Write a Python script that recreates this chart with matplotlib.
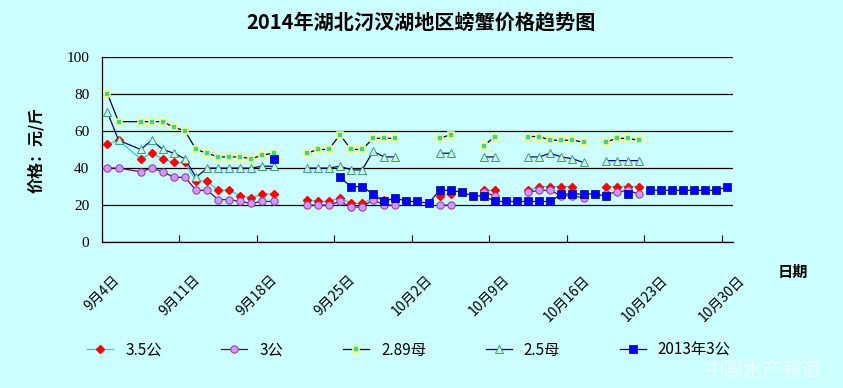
import numpy as np
import pandas as pd
import matplotlib
matplotlib.use("Agg")
import matplotlib.pyplot as plt

plt.rcParams['font.family'] = ['Noto Sans CJK SC', 'DejaVu Sans']

# one row per quoted day (9/6 has no row, so lines run across it);
# None = blank cell, which leaves a gap in the line
dates = pd.date_range("2014-09-04", "2014-10-30", freq="D").drop(pd.Timestamp("2014-09-06"))

p35gong = [53, 55, 45, 48, 45, 43, 43, 33, 33, 28, 28, 25, 24, 26, 26, None, None,
           23, 22, 22, 24, 21, 21, 24, 23, 23, None, None, None, 25, 26, None, None,
           28, 28, None, None, 28, 30, 30, 30, 30, None, None, 30, 30, 30, 30,
           None, None, None, None, None, None, None, None]
p3gong = [40, 40, 38, 40, 38, 35, 35, 28, 28, 23, 23, 22, 21, 22, 22, None, None,
          20, 20, 20, 22, 19, 19, 23, 20, 20, None, None, None, 20, 20, None, None,
          27, 25, None, None, 27, 28, 28, 25, 25, 24, None, 26, 27, 28, 26,
          None, None, None, None, None, None, None, None]
p289mu = [80, 65, 65, 65, 65, 62, 60, 50, 48, 46, 46, 46, 45, 47, 48, None, None,
          48, 50, 50, 58, 50, 50, 56, 56, 56, None, None, None, 56, 58, None, None,
          52, 57, None, None, 57, 57, 55, 55, 55, 54, None, 54, 56, 56, 55,
          None, None, None, None, None, None, None, None]
p25mu = [70, 55, 50, 55, 50, 48, 45, 35, 40, 40, 40, 40, 40, 41, 41, None, None,
         40, 40, 40, 41, 39, 39, 49, 46, 46, None, None, None, 48, 48, None, None,
         46, 46, None, None, 46, 46, 48, 46, 45, 43, None, 44, 44, 44, 44,
         None, None, None, None, None, None, None, None]
p2013 = [None, None, None, None, None, None, None, None, None, None, None, None, None, None, 45,
         None, None, None, None, None,
         35, 30, 30, 26, 22, 24, 22, 22, 21, 28, 28, 27, 25, 25, 22, 22, 22, 22, 22, 22,
         26, 26, 26, 26, 25, None, 26, None, 28, 28, 28, 28, 28, 28, 28, 30]

names = ["3.5公", "3公", "2.89母", "2.5母", "2013年3公"]
tick_dates = pd.date_range("2014-09-04", "2014-10-30", freq="7D")
tick_labels = [f"{d.month}月{d.day}日" for d in tick_dates]

bg = "#CCFFFF"
fig = plt.figure(figsize=(8.43, 3.88), dpi=100, facecolor=bg)
ax = fig.add_axes([0.1209, 0.3755, 0.7486, 0.4784], facecolor=bg)

x = dates + pd.Timedelta(hours=12)   # points sit in the middle of their day
styles = [
    dict(color="#33CCCC", marker="D", ms=3.8, mfc="#FF0000", mec="#FF0000"),
    dict(color="#660066", marker="o", ms=5.3, mfc="#CC99FF", mec="#993399", mew=0.7),
    dict(color="#000033", marker="s", ms=4.3, mfc="#33CCCC", mec="#FFFF66", mew=1.2),
    dict(color="#000080", marker="^", ms=5.8, mfc="#CCFFCC", mec="#339999", mew=0.7),
    dict(color="#000080", marker="s", ms=5.3, mfc="#0000FF", mec="#000080", mew=0.5),
]
series = [p35gong, p3gong, p289mu, p25mu, p2013]
handles = []
for vals, st, nm in zip(series, styles, names):
    y = np.array([np.nan if v is None else v for v in vals], dtype=float)
    ln, = ax.plot(x, y, lw=0.9, label=nm, zorder=3, **st)
    handles.append(ln)

ax.set_xlim(pd.Timestamp("2014-09-04"), pd.Timestamp("2014-10-31"))
ax.set_ylim(0, 100)
ax.set_yticks([0, 20, 40, 60, 80, 100])
ax.yaxis.grid(True, color="black", lw=0.9)
ax.set_axisbelow(True)
for s in ["top", "right"]:
    ax.spines[s].set_visible(False)
ax.spines["left"].set_linewidth(0.9)
ax.spines["bottom"].set_linewidth(0.9)

ax.set_xticks(tick_dates)
ax.set_xticklabels(tick_labels, rotation=45, ha="center", va="top", fontsize=10)
ax.tick_params(axis="x", direction="in", length=5, pad=22)
ax.tick_params(axis="y", direction="in", length=0, pad=9)
for t in ax.get_yticklabels():
    t.set_family("Liberation Serif")
    t.set_fontsize(11)

fig.text(0.4994, 0.943, "2014年湖北汈汊湖地区螃蟹价格趋势图", ha="center", va="center",
         fontsize=14.5, fontweight="bold")
fig.text(0.042, 0.613, "价格：元/斤", rotation=90, ha="center", va="center",
         fontsize=11.5, fontweight="bold")
fig.text(0.9407, 0.299, "日期", ha="center", va="center", fontsize=11, fontweight="bold")

fig.legend(handles, names, loc="center", bbox_to_anchor=(0.485, 1 - 350 / 388), ncol=5,
           frameon=False, fontsize=11, handlelength=1.7, handletextpad=0.8,
           columnspacing=3.9)

# watermark
fig.text(0.905, 0.045, "中国水产频道", ha="center", va="center", fontsize=14,
         color="#EEFFFF", alpha=0.9, style="italic")

fig.savefig("out.png", dpi=100, facecolor=bg)
